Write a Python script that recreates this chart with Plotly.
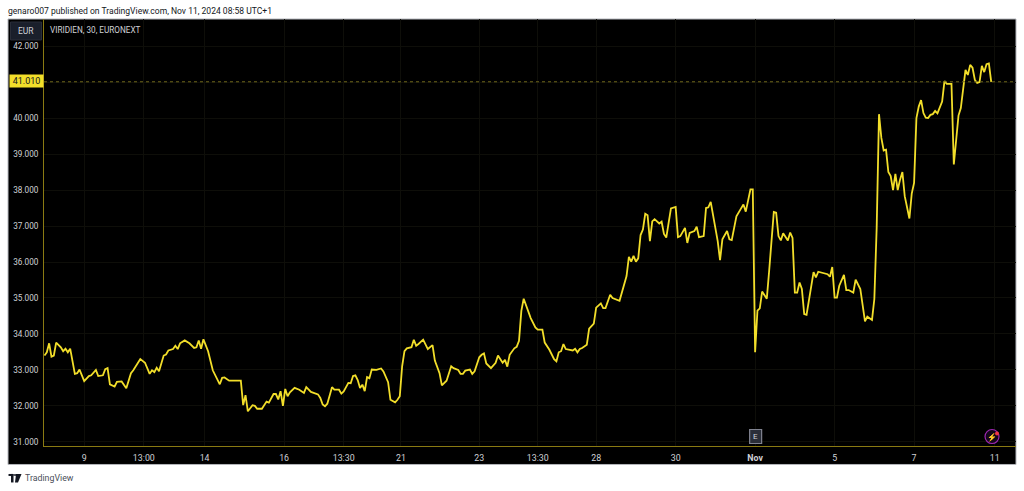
import plotly.graph_objects as go

# bar number (30 min bars, counted from the left edge) and close price
bars = [0, 1, 2, 3, 4, 5, 7, 8, 9, 10, 11, 13, 14, 15, 17, 19, 20, 22, 23, 25,
        26, 27, 28, 30, 31, 33, 35, 37, 38, 41, 43, 45, 46, 47, 48, 49, 51, 52, 53, 55,
        56, 57, 58, 60, 62, 64, 65, 66, 67, 68, 70, 71, 72, 75, 76, 77, 79, 84, 85, 86,
        87, 89, 90, 91, 93, 95, 96, 98, 99, 100, 101, 102, 103, 104, 105, 107, 109, 111, 112, 114,
        115, 117, 118, 119, 120, 121, 123, 124, 126, 127, 128, 130, 131, 132, 133, 134, 135, 136, 137, 138,
        139, 140, 142, 143, 144, 145, 146, 147, 148, 150, 151, 152, 153, 154, 155, 157, 158, 159, 160, 162,
        164, 166, 167, 169, 170, 172, 174, 175, 177, 178, 179, 180, 182, 183, 184, 186, 187, 188, 189, 191,
        193, 194, 196, 197, 198, 199, 201, 202, 203, 204, 205, 207, 208, 210, 211, 213, 214, 216, 218, 219,
        220, 221, 222, 223, 226, 227, 228, 229, 230, 232, 233, 234, 235, 236, 238, 239, 240, 242, 243, 246,
        247, 249, 250, 251, 252, 253, 254, 255, 256, 257, 258, 259, 260, 261, 263, 264, 265, 266, 267, 268,
        270, 271, 272, 274, 275, 276, 278, 279, 280, 282, 283, 284, 285, 288, 289, 290, 292, 293, 294, 296,
        298, 299, 300, 302, 303, 304, 305, 306, 307, 309, 310, 312, 313, 314, 315, 316, 318, 319, 320, 321,
        322, 323, 324, 325, 326, 328, 329, 330, 331, 335, 336, 337, 338, 339, 340, 342, 343, 344, 346, 347,
        349, 351, 352, 354, 355, 356, 357, 358, 359, 360, 361, 362, 363, 364, 365, 366, 367, 368, 370, 371,
        372, 373, 374, 375, 376, 377, 378, 379, 380, 381, 382, 384, 385, 386, 388, 389, 390, 391, 392, 394,
        395, 396, 397, 398, 399, 400, 401, 402, 403, 404, 405]
prices = [33.40, 33.49, 33.74, 33.37, 33.40, 33.76, 33.63, 33.52, 33.59, 33.49, 33.59, 32.89, 32.91, 33.01, 32.69, 32.83, 32.85, 33.00, 32.83, 32.85,
          33.02, 33.05, 32.60, 32.54, 32.67, 32.68, 32.49, 32.91, 32.99, 33.30, 33.20, 32.89, 32.99, 32.94, 33.06, 32.96, 33.40, 33.43, 33.54, 33.58,
          33.67, 33.58, 33.74, 33.82, 33.74, 33.61, 33.63, 33.82, 33.59, 33.85, 33.52, 33.26, 32.99, 32.60, 32.78, 32.79, 32.70, 32.70, 32.02, 32.30,
          31.85, 32.02, 32.00, 31.92, 31.92, 32.12, 32.09, 32.33, 32.33, 32.18, 32.41, 32.00, 32.47, 32.27, 32.38, 32.50, 32.45, 32.36, 32.52, 32.39,
          32.37, 32.32, 32.22, 32.04, 31.99, 32.06, 32.52, 32.45, 32.45, 32.34, 32.40, 32.64, 32.63, 32.83, 32.85, 32.72, 32.50, 32.59, 32.41, 32.80,
          32.77, 33.01, 33.00, 33.03, 33.04, 32.96, 32.80, 32.66, 32.17, 32.10, 32.17, 32.27, 33.10, 33.52, 33.60, 33.63, 33.84, 33.67, 33.72, 33.84,
          33.58, 33.69, 33.26, 32.91, 32.57, 32.70, 33.10, 33.05, 33.00, 32.89, 32.89, 32.98, 33.01, 32.89, 32.96, 33.35, 33.42, 33.46, 33.18, 33.05,
          33.20, 33.40, 33.20, 33.28, 33.09, 33.42, 33.60, 33.64, 33.81, 34.64, 34.98, 34.60, 34.44, 34.18, 34.12, 34.12, 33.76, 33.56, 33.30, 33.24,
          33.49, 33.52, 33.72, 33.58, 33.54, 33.59, 33.49, 33.58, 33.61, 33.70, 34.15, 34.22, 34.29, 34.73, 34.85, 34.72, 34.72, 35.09, 35.00, 34.92,
          35.15, 35.61, 36.14, 36.01, 36.17, 36.01, 36.10, 36.75, 36.90, 37.34, 37.30, 36.58, 37.13, 37.19, 37.07, 37.12, 36.78, 36.68, 37.09, 37.49,
          37.53, 36.69, 36.72, 36.95, 36.53, 36.81, 36.86, 36.98, 36.69, 36.72, 37.50, 37.52, 37.67, 36.58, 36.05, 36.63, 36.86, 36.63, 36.61, 37.27,
          37.49, 37.60, 37.40, 38.02, 38.02, 33.49, 34.65, 34.71, 35.18, 34.98, 35.75, 37.39, 37.37, 36.72, 36.60, 36.80, 36.60, 36.82, 36.67, 35.15,
          35.15, 35.43, 35.25, 34.55, 34.53, 35.34, 35.72, 35.57, 35.73, 35.66, 35.59, 35.86, 35.01, 35.01, 35.34, 35.64, 35.22, 35.22, 35.15, 35.51,
          35.25, 34.35, 34.48, 34.39, 34.97, 36.95, 40.11, 39.45, 39.10, 39.12, 38.50, 38.39, 38.00, 38.45, 38.00, 38.29, 38.50, 37.83, 37.21, 37.90,
          38.20, 40.00, 40.32, 40.50, 40.14, 40.01, 40.00, 40.09, 40.11, 40.20, 40.13, 40.46, 41.03, 40.95, 40.95, 38.71, 39.49, 40.07, 40.28, 41.34,
          41.20, 41.48, 41.40, 41.06, 40.98, 41.00, 41.45, 41.28, 41.50, 41.52, 41.01]

x_ticks = [17, 42.5, 68.5, 102.5, 128, 152.5, 186, 211, 236, 270, 304, 338, 372, 406.5]
x_labels = ["9", "13:00", "14", "16", "13:30", "21", "23", "13:30", "28", "30", "<b>Nov</b>", "5", "7", "11"]
y_ticks = [31, 32, 33, 34, 35, 36, 37, 38, 39, 40, 41, 42]
y_labels = ["31.000", "32.000", "33.000", "34.000", "35.000", "36.000", "37.000", "38.000", "39.000", "40.000", "", "42.000"]
last_price = 41.01

LEFT, RIGHT, TOP, BOTTOM = 43.5, 1016, 19, 446.5
GRID = "#0e0e09"
AXIS = "#8a7a12"
YELLOW = "#f2de2a"
TEXT = "#cfd1d6"


# overlays sit in screen pixels
def px(x):
    return (x - LEFT) / (RIGHT - LEFT)


def py(y):
    return (BOTTOM - y) / (BOTTOM - TOP)


def box(x0, y0, x1, y1, **kw):
    return dict(type="rect", xref="paper", yref="paper", x0=px(x0), x1=px(x1), y0=py(y0), y1=py(y1), **kw)


def label(x, y, text, size=9, color=TEXT, anchor="left", **kw):
    return dict(xref="paper", yref="paper", x=px(x), y=py(y), text=text, showarrow=False,
                xanchor=anchor, yanchor="middle", font=dict(size=size, color=color, family="Roboto"), **kw)


fig = go.Figure()
fig.add_trace(go.Scatter(x=bars, y=prices, mode="lines", line=dict(color=YELLOW, width=1.8), hoverinfo="skip"))

shapes = [
    box(7.5, 19, 1016, 465, fillcolor="#000000", line=dict(color="#b4b6bc", width=1), layer="below"),
    dict(type="line", xref="paper", yref="y", x0=0, x1=1, y0=last_price, y1=last_price,
         line=dict(color="#6e651a", width=1, dash="dot")),
    # E badge
    box(749.5, 430, 761.5, 444, fillcolor="#2a2e39", line=dict(color="#808390", width=1.2)),
    # lightning badge
    dict(type="circle", xref="paper", yref="paper", x0=px(985), x1=px(999), y0=py(444), y1=py(430),
         fillcolor="#14071a", line=dict(color="#9c27b0", width=1.2)),
    dict(type="circle", xref="paper", yref="paper", x0=px(995), x1=px(999), y0=py(436), y1=py(432),
         fillcolor="#f23645", line=dict(width=0)),
    # EUR button
    dict(type="rect", xref="paper", yref="paper", x0=px(10), x1=px(41), y0=py(40), y1=py(22),
         fillcolor="#1a1f2b", line=dict(color="#2a2e39", width=1)),
    # TradingView logo
    box(8, 474.5, 13, 476.5, fillcolor="#131722", line=dict(width=0)),
    box(10.5, 474.5, 13, 483, fillcolor="#131722", line=dict(width=0)),
    dict(type="path", xref="paper", yref="paper", fillcolor="#131722", line=dict(width=0),
         path="M %f %f L %f %f L %f %f L %f %f Z" % (px(15.5), py(474.5), px(21), py(474.5), px(17.5), py(483), px(14.5), py(483))),
    dict(type="circle", xref="paper", yref="paper", x0=px(13.5), x1=px(15.5), y0=py(476.5), y1=py(474.5),
         fillcolor="#131722", line=dict(width=0)),
]

annotations = [
    label(5.5, 10.5, "genaro007 published on TradingView.com, Nov 11, 2024 08:58 UTC+1", size=8.55, color="#131722"),
    label(48, 30, "VIRIDIEN, 30, EURONEXT", size=8.2),
    label(25.5, 31, "EUR", size=8.5, anchor="center"),
    label(25.5, 81.5, "41.010", size=9, color="#131722", anchor="center",
          bgcolor=YELLOW, borderpad=1, width=31, height=10),
    label(755.7, 437, "E", size=8, color="#d1d4dc", anchor="center"),
    label(992, 437, "⚡", size=8, color="#b040d0", anchor="center"),
    label(22, 479, "TradingView", size=8.8, color="#4a4e59"),
]

fig.update_layout(
    width=1024,
    height=491,
    margin=dict(l=LEFT, r=1024 - RIGHT, t=TOP, b=491 - BOTTOM, pad=0),
    paper_bgcolor="#ffffff",
    plot_bgcolor="#000000",
    showlegend=False,
    shapes=shapes,
    annotations=annotations,
    xaxis=dict(
        range=[-0.2, 415.6],
        tickvals=x_ticks,
        ticktext=x_labels,
        tickangle=0,
        showgrid=True,
        gridcolor=GRID,
        gridwidth=1,
        zeroline=False,
        showline=True,
        linecolor=AXIS,
        linewidth=1,
        ticks="outside",
        ticklen=3,
        tickcolor="rgba(0,0,0,0)",
        tickfont=dict(size=8.8, color=TEXT, family="Roboto"),
    ),
    yaxis=dict(
        range=[30.885, 42.755],
        tickvals=y_ticks,
        ticktext=y_labels,
        showgrid=True,
        gridcolor=GRID,
        gridwidth=1,
        zeroline=False,
        showline=True,
        linecolor=AXIS,
        linewidth=1,
        ticks="outside",
        ticklen=3,
        tickcolor="rgba(0,0,0,0)",
        tickfont=dict(size=8.2, color=TEXT, family="Roboto"),
    ),
)

fig.write_html("out.html", config=dict(displayModeBar=False), post_script="document.body.style.margin='0';")
